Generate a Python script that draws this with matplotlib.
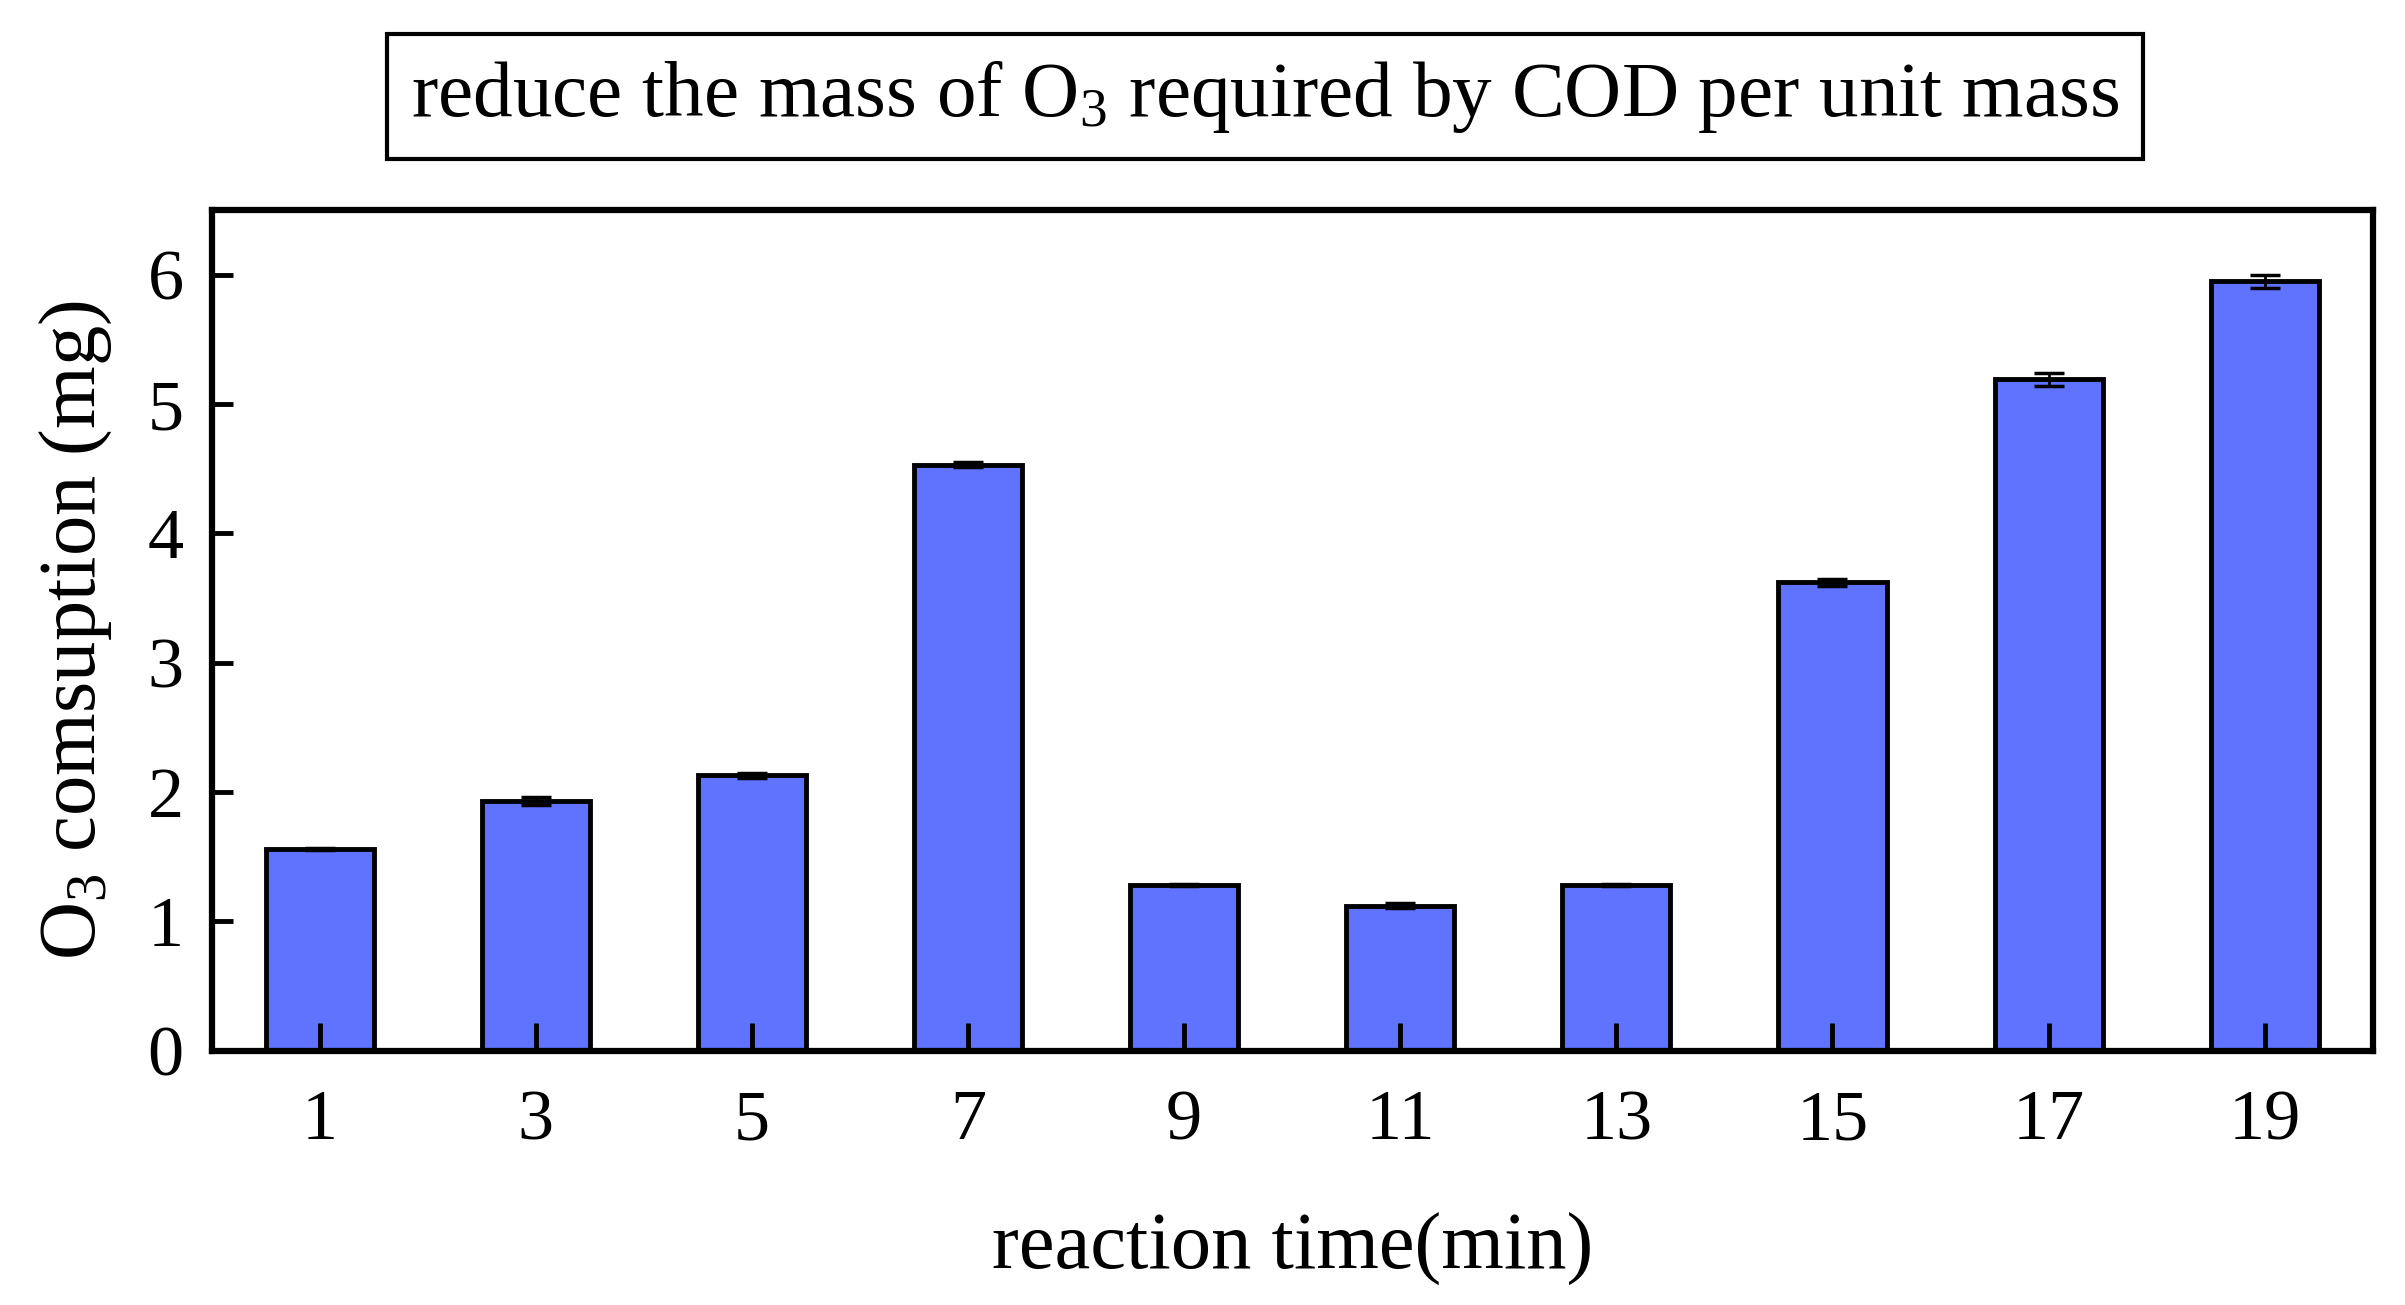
import matplotlib.pyplot as plt
import numpy as np

plt.rcParams['font.family'] = ['Liberation Serif', 'DejaVu Serif']
plt.rcParams['mathtext.fontset'] = 'custom'
plt.rcParams['mathtext.rm'] = 'Liberation Serif'
plt.rcParams['mathtext.it'] = 'Liberation Serif:italic'

# datos
tiempo = [1, 3, 5, 7, 9, 11, 13, 15, 17, 19]
consumo = [1.56, 1.93, 2.13, 4.53, 1.28, 1.12, 1.28, 3.62, 5.19, 5.95]
error = [0.01, 0.03, 0.02, 0.02, 0.01, 0.02, 0.01, 0.03, 0.05, 0.05]

fig = plt.figure(figsize=(24.05, 13.05), dpi=100)
ax = fig.add_axes([0.088, 0.195, 0.8986, 0.644])

ax.bar(tiempo, consumo, width=1.0, color='#6073FF', edgecolor='black',
       linewidth=3.5, zorder=1)
ax.errorbar(tiempo, consumo, yerr=error, fmt='none', ecolor='black',
            elinewidth=2, capsize=11, capthick=2.5, zorder=3)

ax.set_xlim(0, 20)
ax.set_ylim(0, 6.5)
ax.set_xticks(tiempo)
ax.set_yticks(range(0, 7))

for s in ax.spines.values():
    s.set_linewidth(4.5)

ax.tick_params(axis='x', direction='in', length=20, width=3.5, labelsize=52, pad=28)
ax.tick_params(axis='y', direction='in', length=15, width=3.5, labelsize=52, pad=20)

ax.set_xlabel('reaction time(min)', fontsize=58, labelpad=42)
ax.set_ylabel(r'O$_3$ comsuption (mg)', fontsize=58, labelpad=24)

fig.text(0.526, 0.926, r'reduce the mass of O$_3$ required by COD per unit mass',
         ha='center', va='center', fontsize=57,
         bbox=dict(boxstyle='square,pad=0.3', facecolor='white',
                   edgecolor='black', linewidth=3))

fig.savefig('out.png', dpi=100)
